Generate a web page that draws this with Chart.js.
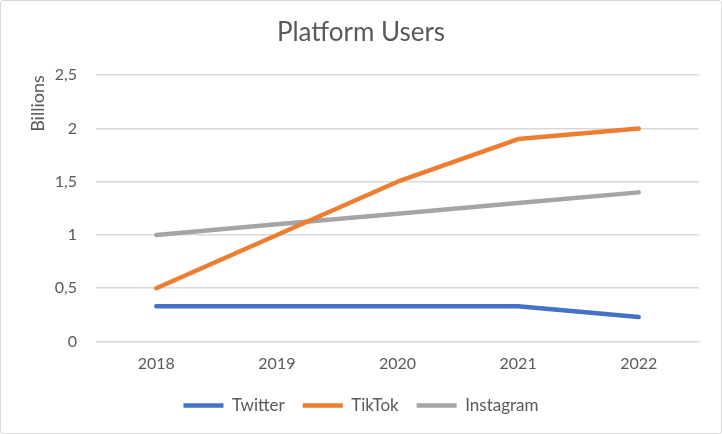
<!DOCTYPE html>
<html>
<head>
<meta charset="utf-8">
<script src="https://cdn.jsdelivr.net/npm/chart.js@4"></script>
<style>
    html, body { margin: 0; padding: 0; background: #fff; }
    .frame {
        width: 722px; height: 434px; box-sizing: border-box;
        border: 1px solid #d9d9d9; border-radius: 3px; background: #fff;
    }
</style>
</head>
<body>
<div class="frame"><canvas id="usersChart"></canvas></div>
<script>
const years = ['2018', '2019', '2020', '2021', '2022'];
const twitter = [0.33, 0.33, 0.33, 0.33, 0.23];
const tiktok = [0.5, 1.0, 1.5, 1.9, 2.0];
const instagram = [1.0, 1.1, 1.2, 1.3, 1.4];

const textColor = '#595959';
const gridColor = '#d9d9d9';
Chart.defaults.font.family = 'Lato, "Open Sans", sans-serif';
Chart.defaults.color = textColor;

function series(label, data, color) {
    return {
        label: label,
        data: data,
        borderColor: color,
        backgroundColor: color,
        borderWidth: 4.5,
        borderCapStyle: 'round',
        borderJoinStyle: 'round',
        pointRadius: 0,
        pointHoverRadius: 0,
        pointStyle: 'line',
        tension: 0
    };
}

const ctx = document.getElementById('usersChart').getContext('2d');
const usersChart = new Chart(ctx, {
    type: 'line',
    data: {
        labels: years,
        datasets: [
            series('Twitter', twitter, '#4472c4'),
            series('TikTok', tiktok, '#ed7d31'),
            series('Instagram', instagram, '#a5a5a5')
        ]
    },
    options: {
        responsive: true,
        maintainAspectRatio: false,
        animation: false,
        layout: {
            padding: { top: 14, right: 22, bottom: 9, left: 22 }
        },
        plugins: {
            title: {
                display: true,
                text: 'Platform Users',
                color: textColor,
                font: { size: 26, weight: 'normal' },
                padding: { top: 2, bottom: 27 }
            },
            legend: {
                position: 'bottom',
                labels: {
                    color: textColor,
                    font: { size: 17 },
                    usePointStyle: true,
                    pointStyleWidth: 40,
                    boxHeight: 5,
                    padding: 18
                }
            },
            tooltip: { enabled: false }
        },
        scales: {
            x: {
                offset: true,
                grid: { display: false, drawTicks: false },
                border: { color: gridColor },
                ticks: { color: textColor, font: { size: 16 }, padding: 13 },
                afterFit: (scale) => { scale.height = 37.5; }
            },
            y: {
                min: 0,
                max: 2.5,
                grid: { color: gridColor, lineWidth: 1.5, drawTicks: false },
                border: { display: false },
                ticks: {
                    stepSize: 0.5,
                    color: textColor,
                    font: { size: 16 },
                    padding: 19,
                    callback: (v) => String(v).replace('.', ',')
                },
                title: {
                    display: true,
                    text: 'Billions',
                    align: 'end',
                    color: textColor,
                    font: { size: 18 },
                    padding: { top: 4, bottom: 0 }
                },
                afterFit: (scale) => { scale.width = 73; }
            }
        }
    }
});
</script>
</body>
</html>
